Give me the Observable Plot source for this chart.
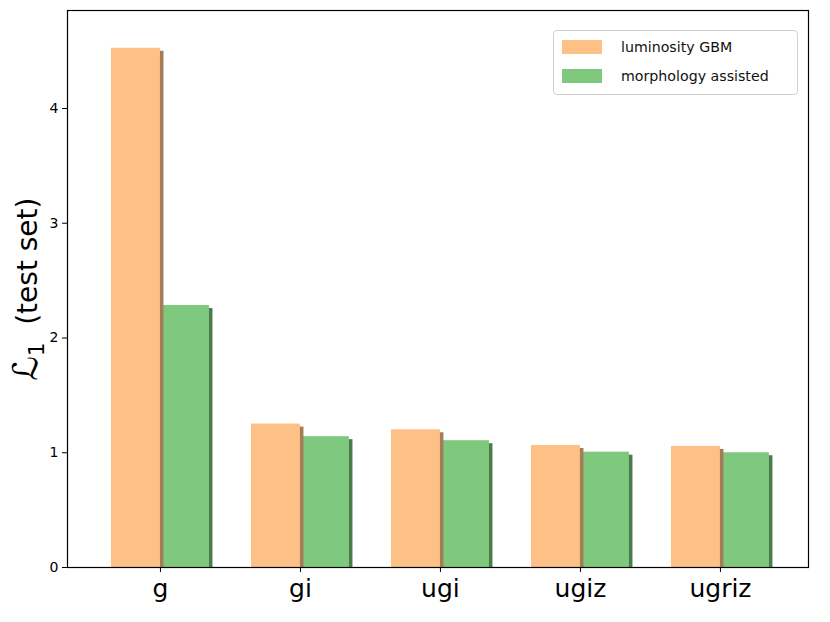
<!DOCTYPE html>
<html>
<head>
<meta charset="utf-8">
<script src="https://cdn.jsdelivr.net/npm/d3@7"></script>
<script src="https://cdn.jsdelivr.net/npm/@observablehq/plot@0.6"></script>
<style>
  body { margin: 0; background: #fff; font-family: "DejaVu Sans", sans-serif; }
  #wrap { position: relative; width: 830px; height: 622px; }
  .legend { position: absolute; left: 553px; top: 30px; width: 245px; height: 65px;
    border: 1px solid #d0d0d0; border-radius: 4px; background: rgba(255,255,255,0.8);
    box-sizing: border-box; font-size: 14.2px; color: #111; }
  .legend .row { position: absolute; left: 8px; height: 16px; display: flex; align-items: center; }
  .legend .sw { width: 40px; height: 14px; margin-right: 19px; }
</style>
</head>
<body>
<div id="wrap"></div>
<script>
const categories = ["g", "gi", "ugi", "ugiz", "ugriz"];
const luminosity = [4.525, 1.25, 1.20, 1.063, 1.055];
const morphology = [2.283, 1.14, 1.105, 1.005, 1.0];
const seriesNames = ["luminosity GBM", "morphology assisted"];
const seriesColors = ["#fdc086", "#7fc97f"];
const shadowColors = ["#a47c58", "#4c7b4c"];
const yTicks = [0, 1, 2, 3, 4];
const yLabelParts = ["ℒ", "1", "  (test set)"];

const rows = [];
categories.forEach((c, i) => {
  rows.push({cat: c, i, s: 0, x1: i - 0.35, x2: i, v: luminosity[i]});
  rows.push({cat: c, i, s: 1, x1: i, x2: i + 0.35, v: morphology[i]});
});
const lum = rows.filter(d => d.s === 0);
const mor = rows.filter(d => d.s === 1);

const chart = Plot.plot({
  width: 830,
  height: 622,
  marginLeft: 67,
  marginRight: 22,
  marginTop: 10,
  marginBottom: 55,
  style: {fontFamily: "DejaVu Sans, sans-serif", color: "#000", background: "#fff"},
  x: {domain: [-0.664, 4.629]},
  y: {domain: [0, 4.854]},
  marks: [
    Plot.rectY(mor, {x1: "x1", x2: "x2", y1: 0, y2: "v", fill: shadowColors[1], dx: 3.5, dy: 3, clip: true}),
    Plot.rectY(mor, {x1: "x1", x2: "x2", y1: 0, y2: "v", fill: seriesColors[1]}),
    Plot.rectY(lum, {x1: "x1", x2: "x2", y1: 0, y2: "v", fill: shadowColors[0], dx: 3.5, dy: 3, clip: true}),
    Plot.rectY(lum, {x1: "x1", x2: "x2", y1: 0, y2: "v", fill: seriesColors[0]}),
    Plot.frame({stroke: "#000", strokeWidth: 1.2}),
    Plot.axisX({ticks: categories.map((c, i) => i), tickFormat: i => categories[i], tickSize: 5, tickPadding: 7, fontSize: 25, label: null, stroke: "#000"}),
    Plot.axisY({ticks: yTicks, tickFormat: d => String(d), tickSize: 5, tickPadding: 4, fontSize: 14, label: null, stroke: "#000"}),
    Plot.text([yLabelParts.join("")], {frameAnchor: "left", text: d => d, rotate: -90, dx: -39, fontSize: 28, textAnchor: "middle", lineAnchor: "middle", fill: "#000", className: "ylab"})
  ]
});
const wrap = document.getElementById("wrap");
wrap.appendChild(chart);

// style the y label like matplotlib mathtext: larger script L with subscript 1
const t = d3.select(chart).select(".ylab text");
if (!t.empty()) {
  t.text(null).attr("xml:space", "preserve").style("white-space", "pre");
  t.append("tspan").attr("font-size", 34).text(yLabelParts[0]);
  t.append("tspan").attr("font-size", 21).attr("dy", "0.3em").text(yLabelParts[1]);
  t.append("tspan").attr("font-size", 28).attr("dy", "-0.25em").text(yLabelParts[2]);
}

const legend = document.createElement("div");
legend.className = "legend";
seriesNames.forEach((name, k) => {
  const row = document.createElement("div");
  row.className = "row";
  row.style.top = (8 + k * 29) + "px";
  const sw = document.createElement("div");
  sw.className = "sw";
  sw.style.background = seriesColors[k];
  const tx = document.createElement("span");
  tx.textContent = name;
  row.appendChild(sw);
  row.appendChild(tx);
  legend.appendChild(row);
});
wrap.appendChild(legend);
</script>
</body>
</html>
